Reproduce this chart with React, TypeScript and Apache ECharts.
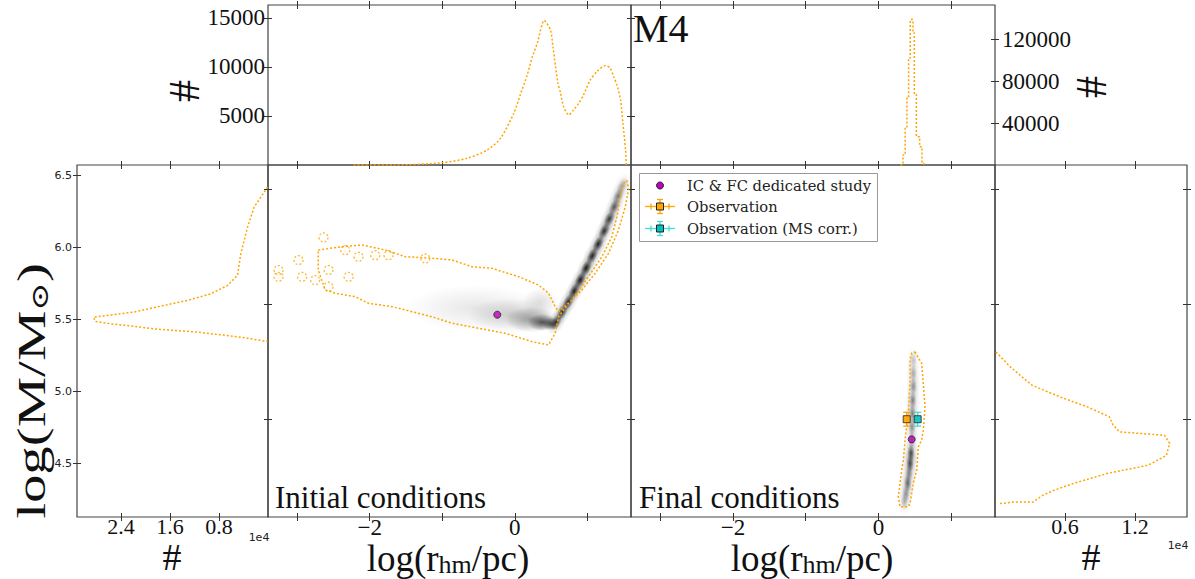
import React, { useEffect, useRef } from 'react';
import * as echarts from 'echarts';

// ---------------- data ----------------
// top-left marginal: initial log(r_hm/pc) histogram
const icRhm = [-2.22, -1.67, -1.0, -0.656, -0.38, -0.197, -0.014, 0.074, 0.171, 0.235, 0.309, 0.405, 0.49, 0.525, 0.56, 0.594, 0.63, 0.671, 0.744, 0.808, 0.88, 0.946, 1.04, 1.13, 1.25, 1.314, 1.36, 1.406, 1.456, 1.489, 1.525, 1.535];
const icRhmCount = [0, 0, 230, 680, 1530, 2720, 5270, 7140, 9180, 10880, 12410, 14720, 13780, 12070, 10030, 8330, 7310, 5950, 5100, 5610, 6290, 7140, 8670, 9520, 10130, 9860, 9010, 8160, 6630, 4250, 1530, 0];

// top-right marginal: final log(r_hm/pc) histogram (step)
const fcRhm = [0.30, 0.336, 0.366, 0.39, 0.413, 0.436, 0.474, 0.492, 0.52, 0.565, 0.597, 0.62];
const fcRhmCount = [0, 9600, 35200, 64000, 102300, 139100, 126300, 67100, 27100, 17500, 1600, 0];

// left marginal: initial log(M) histogram
const icMass = [6.419, 6.280, 6.141, 5.956, 5.806, 5.736, 5.678, 5.632, 5.592, 5.551, 5.533, 5.516, 5.486, 5.470, 5.453, 5.435, 5.412, 5.396, 5.377, 5.347];
const icMassCount = [70, 2260, 3340, 4440, 4980, 6620, 9360, 13180, 17550, 21930, 25210, 28490, 28210, 25750, 21930, 18650, 11540, 8260, 4440, 70];

// right marginal: final log(M) histogram
const fcMass = [4.917, 4.891, 4.859, 4.838, 4.821, 4.804, 4.790, 4.778, 4.772, 4.758, 4.737, 4.720, 4.706, 4.689, 4.677, 4.668, 4.656, 4.656, 4.653];
const fcMassCount = [80, 1310, 3170, 5680, 7970, 9820, 10110, 10680, 14540, 14970, 14690, 13120, 9690, 6830, 5120, 4120, 3260, 1550, 310];

// initial conditions: outer contour [log r, log M]
const icContour = [
  [-2.708, 5.982], [-2.382, 6.005], [-2.106, 6.017], [-1.785, 5.982], [-1.510, 5.936], [-1.142, 5.925],
  [-0.866, 5.913], [-0.591, 5.866], [-0.315, 5.855], [0.051, 5.797], [0.326, 5.739], [0.464, 5.682],
  [0.556, 5.589], [0.602, 5.554], [0.787, 5.635], [1.015, 5.797], [1.200, 5.936], [1.337, 6.075],
  [1.406, 6.213], [1.452, 6.352], [1.497, 6.445], [1.544, 6.463], [1.566, 6.399], [1.521, 6.283],
  [1.428, 6.121], [1.291, 5.959], [1.107, 5.821], [0.924, 5.705], [0.740, 5.612], [0.602, 5.519],
  [0.556, 5.404], [0.464, 5.323], [0.236, 5.346], [-0.132, 5.404], [-0.5, 5.439], [-0.866, 5.474],
  [-1.142, 5.519], [-1.417, 5.554], [-1.693, 5.589], [-2.015, 5.612], [-2.198, 5.658], [-2.474, 5.682],
  [-2.612, 5.705], [-2.708, 5.843], [-2.708, 5.982],
];
// small isolated contour islands (noisy low-density tail)
const icIslands = [
  [-2.635, 6.069], [-3.255, 5.843], [-3.255, 5.796], [-2.98, 5.912], [-2.93, 5.796], [-2.75, 5.773],
  [-2.566, 5.843], [-2.566, 5.727], [-2.336, 5.981], [-2.153, 5.935], [-1.923, 5.946], [-2.29, 5.796],
  [-1.74, 5.946], [-1.234, 5.923],
];
// initial density: diffuse cloud [log r, log M, spread r, spread M, weight]
const icCloud = [
  [-0.55, 5.58, 0.95, 0.16, 0.10],
  [-0.05, 5.53, 0.60, 0.12, 0.18],
  [0.35, 5.62, 0.25, 0.10, 0.14],
  [0.22, 5.50, 0.35, 0.09, 0.35],
  [0.38, 5.48, 0.20, 0.06, 0.65],
  [0.50, 5.47, 0.12, 0.045, 0.6],
];
// initial density: narrow rising ridge [log r, log M, weight]
const icRidge = [
  [0.570, 5.483, 0.7], [0.653, 5.552, 0.75], [0.736, 5.621, 0.8], [0.818, 5.697, 0.85], [0.901, 5.774, 0.9],
  [0.983, 5.857, 0.9], [1.066, 5.941, 0.85], [1.149, 6.024, 0.85], [1.231, 6.114, 0.8], [1.300, 6.197, 0.75],
  [1.369, 6.281, 0.6], [1.424, 6.357, 0.45], [1.479, 6.427, 0.3],
];
const icStudy = [[-0.242, 5.533]];

// final conditions
const fcContour = [
  [0.501, 4.917], [0.593, 4.897], [0.615, 4.862], [0.639, 4.822], [0.615, 4.781], [0.593, 4.764],
  [0.547, 4.752], [0.525, 4.712], [0.478, 4.689], [0.433, 4.654], [0.409, 4.648], [0.295, 4.648],
  [0.272, 4.665], [0.319, 4.712], [0.341, 4.729], [0.364, 4.764], [0.409, 4.810], [0.433, 4.868],
  [0.433, 4.903], [0.456, 4.915], [0.501, 4.917],
];
const fcStreak = [
  [0.478, 4.903, 0.2], [0.478, 4.880, 0.3], [0.478, 4.857, 0.4], [0.470, 4.833, 0.45], [0.465, 4.810, 0.45],
  [0.460, 4.787, 0.4], [0.456, 4.764, 0.35], [0.446, 4.741, 0.7], [0.433, 4.723, 0.7], [0.419, 4.706, 0.4],
  [0.401, 4.689, 0.55], [0.378, 4.671, 0.35], [0.355, 4.657, 0.25],
];
const fcStudy = [[0.456, 4.765]];
// observations [log r, log M, err r, err M]
const observation = [[0.387, 4.80, 0.03, 0.012]];
const observationMS = [[0.538, 4.80, 0.03, 0.012]];

// ticks
const rhmTicks = [-3, -2, -1, 0, 1];
const rhmTickLabels = [-2, 0];
const icMassTicks = [4.5, 5.0, 5.5, 6.0, 6.5];
const mainMassTicks = [4.8, 5.0, 5.2];
const leftCountTicks = [8000, 16000, 24000];
const rightCountTicks = [6000, 12000];
const topLeftCountTicks = [5000, 10000, 15000];
const topRightCountTicks = [40000, 80000, 120000];

// ---------------- styles ----------------
const ORANGE = '#FFA500';
const MAGENTA = '#BF00BF';
const CYAN = '#00BFBF';
const CYAN_ERR = '#40E0D0';
const SERIF = '"Liberation Serif", "Times New Roman", serif';
const DSERIF = '"DejaVu Serif", serif';
const SANS = '"DejaVu Sans", sans-serif';
const R_RANGE = [-3.4, 1.6];
const IC_M_RANGE = [4.129, 6.572];
const FC_M_RANGE = [4.63, 5.242];
const ARM_ROT = 1.117;

const dotted = { color: ORANGE, width: 1.5, type: [2, 2] as any };
const tickLine = { color: '#333', width: 1 };

function tickAxis(gridIndex: number, position: string, range: number[], ticks: number[], extra: any = {}) {
  return {
    type: 'value', gridIndex, position, min: range[0], max: range[1], offset: -4,
    axisLine: { show: false, onZero: false }, splitLine: { show: false },
    axisTick: { show: true, inside: false, length: 8, lineStyle: tickLine, customValues: ticks },
    axisLabel: { show: false },
    ...extra,
  };
}
function serifLabels(values: number[], fmt: (v: number) => string, margin: number, size = 23) {
  return { show: true, customValues: values, formatter: fmt, fontFamily: SERIF, fontSize: size, color: '#111', margin };
}
const minus = (v: number) => String(v).replace('-', '\u2212');

function radial(a: number) {
  return {
    type: 'radial', x: 0.5, y: 0.5, r: 0.5,
    colorStops: [
      { offset: 0, color: `rgba(15,15,15,${a})` },
      { offset: 0.45, color: `rgba(15,15,15,${a * 0.55})` },
      { offset: 1, color: 'rgba(15,15,15,0)' },
    ],
  };
}

function blobs(xi: number, yi: number, data: number[][], rx: number, ry: number, rot: number, k: number) {
  return {
    type: 'custom', xAxisIndex: xi, yAxisIndex: yi, data, clip: true, silent: true,
    renderItem: (p: any, api: any) => {
      const c = api.coord([api.value(0), api.value(1)]);
      return {
        type: 'ellipse', x: c[0], y: c[1], rotation: rot,
        shape: { cx: 0, cy: 0, rx, ry },
        style: { fill: radial(Math.min(1, api.value(2) * k)) },
      };
    },
  };
}

function errorBars(xi: number, yi: number, data: number[][], color: string) {
  return {
    type: 'custom', xAxisIndex: xi, yAxisIndex: yi, data, silent: true, z: 5,
    renderItem: (p: any, api: any) => {
      const x = api.value(0), y = api.value(1), xe = api.value(2), ye = api.value(3);
      const c = api.coord([x, y]);
      const lo = api.coord([x, y - ye]), hi = api.coord([x, y + ye]);
      const l = api.coord([x - xe, y]), r = api.coord([x + xe, y]);
      const st = { stroke: color, lineWidth: 1.3 };
      return {
        type: 'group', children: [
          { type: 'line', shape: { x1: c[0], y1: lo[1], x2: c[0], y2: hi[1] }, style: st },
          { type: 'line', shape: { x1: c[0] - 3.5, y1: lo[1], x2: c[0] + 3.5, y2: lo[1] }, style: st },
          { type: 'line', shape: { x1: c[0] - 3.5, y1: hi[1], x2: c[0] + 3.5, y2: hi[1] }, style: st },
          { type: 'line', shape: { x1: l[0], y1: c[1], x2: r[0], y2: c[1] }, style: st },
          { type: 'line', shape: { x1: l[0], y1: c[1] - 3.5, x2: l[0], y2: c[1] + 3.5 }, style: st },
          { type: 'line', shape: { x1: r[0], y1: c[1] - 3.5, x2: r[0], y2: c[1] + 3.5 }, style: st },
        ],
      };
    },
  };
}

const zip = (a: number[], b: number[]) => a.map((v, i) => [v, b[i]]);

function legendRow(y: number, color: string, errColor: string) {
  const st = { stroke: errColor, lineWidth: 1.3 };
  return [
    { type: 'line', shape: { x1: 645, y1: y, x2: 675, y2: y }, style: st },
    { type: 'line', shape: { x1: 651, y1: y - 3, x2: 651, y2: y + 3 }, style: st },
    { type: 'line', shape: { x1: 669, y1: y - 3, x2: 669, y2: y + 3 }, style: st },
    { type: 'line', shape: { x1: 660, y1: y - 7, x2: 660, y2: y + 7 }, style: st },
    { type: 'line', shape: { x1: 657, y1: y - 7, x2: 663, y2: y - 7 }, style: st },
    { type: 'line', shape: { x1: 657, y1: y + 7, x2: 663, y2: y + 7 }, style: st },
    { type: 'rect', shape: { x: 656.5, y: y - 3.5, width: 7, height: 7 }, style: { fill: color, stroke: '#222', lineWidth: 1 } },
  ];
}

function buildOption() {
  const grid = [
    { left: 77, top: 165, width: 191, height: 352 },
    { left: 268, top: 5, width: 363, height: 160 },
    { left: 268, top: 165, width: 363, height: 352 },
    { left: 631, top: 5, width: 364, height: 160 },
    { left: 631, top: 165, width: 364, height: 352 },
    { left: 995, top: 165, width: 192, height: 352 },
  ].map((g) => ({ ...g, show: true, borderColor: '#444', borderWidth: 1.2, backgroundColor: 'transparent' }));

  const LC_RANGE = [0, 31200];
  const RC_RANGE = [0, 16460];
  const TL_RANGE = [0, 16300];
  const TR_RANGE = [0, 153000];

  const xAxis = [
    tickAxis(0, 'bottom', LC_RANGE, leftCountTicks, { inverse: true, axisLabel: serifLabels(leftCountTicks, (v) => (v / 1e4).toFixed(1), 2, 22) }), // 0
    tickAxis(0, 'top', LC_RANGE, leftCountTicks, { inverse: true }), // 1
    tickAxis(1, 'bottom', R_RANGE, rhmTicks), // 2
    tickAxis(1, 'top', R_RANGE, rhmTicks), // 3
    tickAxis(2, 'bottom', R_RANGE, rhmTicks, { axisLabel: serifLabels(rhmTickLabels, minus, 3) }), // 4
    tickAxis(2, 'top', R_RANGE, rhmTicks), // 5
    tickAxis(3, 'bottom', R_RANGE, rhmTicks), // 6
    tickAxis(3, 'top', R_RANGE, rhmTicks), // 7
    tickAxis(4, 'bottom', R_RANGE, rhmTicks, { axisLabel: serifLabels(rhmTickLabels, minus, 3) }), // 8
    tickAxis(4, 'top', R_RANGE, rhmTicks), // 9
    tickAxis(5, 'bottom', RC_RANGE, rightCountTicks, { axisLabel: serifLabels(rightCountTicks, (v) => (v / 1e4).toFixed(1), 2, 22) }), // 10
    tickAxis(5, 'top', RC_RANGE, rightCountTicks), // 11
  ];
  const yAxis = [
    tickAxis(0, 'left', IC_M_RANGE, icMassTicks, {
      axisLabel: { show: true, customValues: icMassTicks, formatter: (v: number) => v.toFixed(1), fontFamily: SANS, fontSize: 11, color: '#222', margin: 9 },
    }), // 0
    tickAxis(1, 'left', TL_RANGE, topLeftCountTicks, { axisLabel: serifLabels(topLeftCountTicks, (v) => String(v), 7) }), // 1
    tickAxis(1, 'right', TL_RANGE, topLeftCountTicks), // 2
    { type: 'value', gridIndex: 2, min: IC_M_RANGE[0], max: IC_M_RANGE[1], show: false }, // 3 (data)
    tickAxis(2, 'left', FC_M_RANGE, mainMassTicks), // 4
    tickAxis(2, 'right', FC_M_RANGE, mainMassTicks), // 5
    tickAxis(3, 'right', TR_RANGE, topRightCountTicks, { axisLabel: serifLabels(topRightCountTicks, (v) => String(v), 11) }), // 6
    tickAxis(4, 'left', FC_M_RANGE, mainMassTicks), // 7
    tickAxis(4, 'right', FC_M_RANGE, mainMassTicks), // 8
    tickAxis(5, 'right', FC_M_RANGE, mainMassTicks), // 9
  ];

  const series: any[] = [
    { type: 'line', xAxisIndex: 2, yAxisIndex: 1, data: zip(icRhm, icRhmCount), showSymbol: false, smooth: 0.25, lineStyle: dotted, silent: true },
    { type: 'line', xAxisIndex: 6, yAxisIndex: 6, data: zip(fcRhm, fcRhmCount), showSymbol: false, step: 'end', lineStyle: dotted, silent: true },
    { type: 'line', xAxisIndex: 0, yAxisIndex: 0, data: zip(icMassCount, icMass), showSymbol: false, lineStyle: dotted, silent: true },
    { type: 'line', xAxisIndex: 10, yAxisIndex: 9, data: zip(fcMassCount, fcMass), showSymbol: false, lineStyle: dotted, silent: true },

    // initial density
    {
      type: 'custom', xAxisIndex: 4, yAxisIndex: 3, data: icCloud, clip: true, silent: true,
      renderItem: (p: any, api: any) => {
        const c = api.coord([api.value(0), api.value(1)]);
        const s = api.size([api.value(2), api.value(3)]);
        return { type: 'ellipse', shape: { cx: c[0], cy: c[1], rx: s[0], ry: s[1] }, style: { fill: radial(api.value(4)) } };
      },
    },
    blobs(4, 3, icRidge, 14, 8.5, ARM_ROT, 0.35),
    blobs(4, 3, icRidge, 9, 4.8, ARM_ROT, 1.05),
    { type: 'line', xAxisIndex: 4, yAxisIndex: 3, data: icContour, showSymbol: false, lineStyle: dotted, silent: true, z: 3 },
    {
      type: 'scatter', xAxisIndex: 4, yAxisIndex: 3, data: icIslands, symbol: 'circle', symbolSize: 9, silent: true, z: 3,
      itemStyle: { color: 'rgba(0,0,0,0)', borderColor: ORANGE, borderWidth: 1.3, borderType: [2, 2] },
    },
    {
      type: 'scatter', xAxisIndex: 4, yAxisIndex: 3, data: icStudy, symbol: 'circle', symbolSize: 7, silent: true, z: 6,
      itemStyle: { color: MAGENTA, borderColor: '#222', borderWidth: 1 },
    },

    // final density
    blobs(8, 7, fcStreak, 7.5, 14, 0, 0.35),
    blobs(8, 7, fcStreak, 3.8, 9, 0, 1.0),
    { type: 'line', xAxisIndex: 8, yAxisIndex: 7, data: fcContour, showSymbol: false, lineStyle: dotted, silent: true, z: 3 },
    errorBars(8, 7, observation, ORANGE),
    errorBars(8, 7, observationMS, CYAN_ERR),
    {
      type: 'scatter', xAxisIndex: 8, yAxisIndex: 7, data: observation.map((d) => [d[0], d[1]]), symbol: 'rect', symbolSize: 7, silent: true, z: 6,
      itemStyle: { color: ORANGE, borderColor: '#222', borderWidth: 1 },
    },
    {
      type: 'scatter', xAxisIndex: 8, yAxisIndex: 7, data: observationMS.map((d) => [d[0], d[1]]), symbol: 'rect', symbolSize: 7, silent: true, z: 6,
      itemStyle: { color: CYAN, borderColor: '#222', borderWidth: 1 },
    },
    {
      type: 'scatter', xAxisIndex: 8, yAxisIndex: 7, data: fcStudy, symbol: 'circle', symbolSize: 7, silent: true, z: 6,
      itemStyle: { color: MAGENTA, borderColor: '#222', borderWidth: 1 },
    },
  ];

  const bigText = (x: number, y: number, text: string, size: number, rotation = 0, align = 'center', rich?: any, scaleX = 1) => ({
    type: 'text', x, y, rotation, scaleX, z: 100,
    style: { text, fontFamily: SERIF, fontSize: size, fill: '#111', align, verticalAlign: 'middle', rich },
  });
  const rhmRich = {
    a: { fontFamily: SERIF, fontSize: 37, fill: '#111', lineHeight: 40, verticalAlign: 'bottom' },
    s: { fontFamily: SERIF, fontSize: 26, fill: '#111', lineHeight: 10, verticalAlign: 'bottom' },
  };
  const massRich = {
    a: { fontFamily: SERIF, fontSize: 40, fill: '#111', lineHeight: 44, verticalAlign: 'bottom' },
    s: { fontFamily: '"DejaVu Serif", serif', fontSize: 24, fill: '#111', lineHeight: 14, verticalAlign: 'bottom' },
  };

  const graphic = [
    bigText(633, 28.3, 'M4', 40, 0, 'left'),
    bigText(275, 497, 'Initial conditions', 31, 0, 'left'),
    bigText(639, 497, 'Final conditions', 31, 0, 'left'),
    bigText(448, 557, '{a|log(r}{s|hm}{a|/pc)}', 37, 0, 'center', rhmRich),
    bigText(812, 557, '{a|log(r}{s|hm}{a|/pc)}', 37, 0, 'center', rhmRich),
    bigText(30, 391, '{a|log(M/M}{s|\u2299}{a|)}', 40, Math.PI / 2, 'center', massRich, 1.42),
    bigText(172, 557, '#', 38),
    bigText(1091, 557, '#', 38),
    bigText(184, 91, '#', 44, Math.PI / 2),
    bigText(1091, 87, '#', 44, Math.PI / 2),
    { type: 'text', x: 259, y: 537, z: 100, style: { text: '1e4', fontFamily: SANS, fontSize: 11, fill: '#222', align: 'center', verticalAlign: 'middle' } },
    { type: 'text', x: 1178, y: 545, z: 100, style: { text: '1e4', fontFamily: SANS, fontSize: 11, fill: '#222', align: 'center', verticalAlign: 'middle' } },
    // legend
    { type: 'rect', z: 100, shape: { x: 639.5, y: 173.5, width: 238, height: 68 }, style: { fill: 'rgba(255,255,255,0.9)', stroke: '#999', lineWidth: 1 } },
    { type: 'circle', z: 101, shape: { cx: 660, cy: 185.5, r: 3.5 }, style: { fill: MAGENTA, stroke: '#222', lineWidth: 1 } },
    ...legendRow(206.5, ORANGE, ORANGE).map((e) => ({ ...e, z: 101 })),
    ...legendRow(228.5, CYAN, CYAN_ERR).map((e) => ({ ...e, z: 101 })),
    { type: 'text', x: 687, y: 185.5, z: 101, style: { text: 'IC & FC dedicated study', fontFamily: DSERIF, fontSize: 14.7, fill: '#222', align: 'left', verticalAlign: 'middle' } },
    { type: 'text', x: 687, y: 206.5, z: 101, style: { text: 'Observation', fontFamily: DSERIF, fontSize: 14.7, fill: '#222', align: 'left', verticalAlign: 'middle' } },
    { type: 'text', x: 687, y: 228.5, z: 101, style: { text: 'Observation (MS corr.)', fontFamily: DSERIF, fontSize: 14.7, fill: '#222', align: 'left', verticalAlign: 'middle' } },
  ];

  return { animation: false, backgroundColor: '#ffffff', grid, xAxis, yAxis, series, graphic };
}

export default function App() {
  const ref = useRef<HTMLDivElement>(null);
  useEffect(() => {
    if (!ref.current) return;
    const chart = echarts.init(ref.current, null, { renderer: 'svg' });
    chart.setOption(buildOption() as any);
    return () => chart.dispose();
  }, []);
  return <div ref={ref} style={{ position: 'fixed', left: 0, top: 0, width: 1195, height: 579, background: '#fff' }} />;
}
